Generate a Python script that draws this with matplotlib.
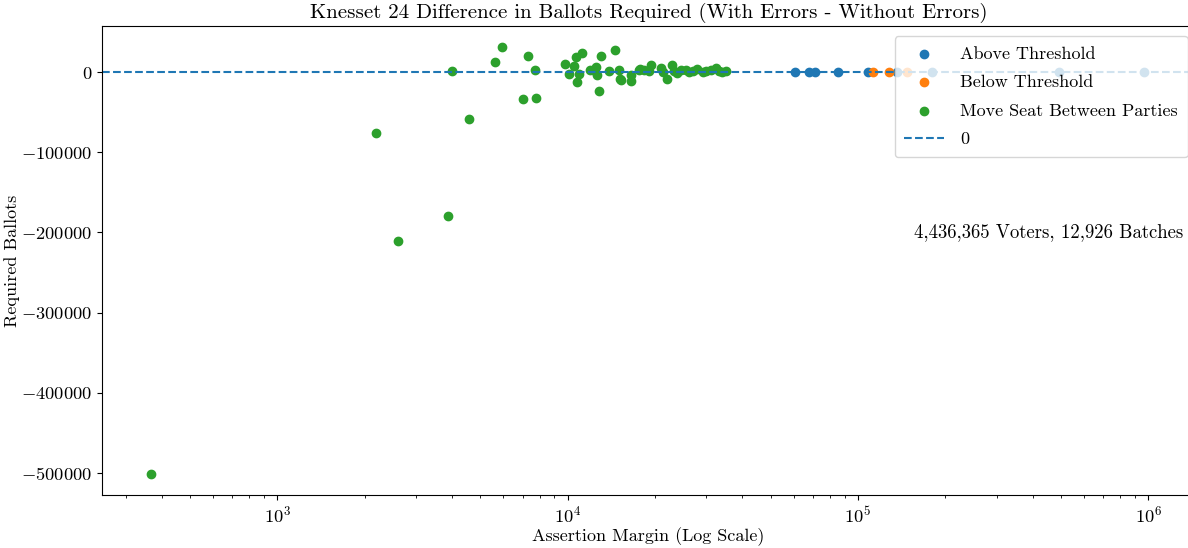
import matplotlib
matplotlib.use('agg')
import matplotlib.pyplot as plt

plt.rcParams['font.family'] = 'serif'
plt.rcParams['font.serif'] = ['cmr10']
plt.rcParams['mathtext.fontset'] = 'cm'
plt.rcParams['axes.formatter.use_mathtext'] = True
plt.rcParams['axes.unicode_minus'] = True

# above threshold assertions
above_margin = [60800, 67900, 71200, 85100, 108500, 136000, 180000, 494000, 970000]
above_diff = [0, 0, 300, 0, 0, 0, 0, 0, 0]

# below threshold assertions
below_margin = [113000, 128300, 147600]
below_diff = [0, 0, 0]

# move seat between parties
seat_margin = [368, 2193, 2612, 3854, 3981, 4572, 5610, 5916, 7031, 7278, 7690, 7760,
               9770, 10100, 10510, 10650, 10740, 10940, 11240, 11940, 12260, 12490,
               12590, 12790, 13020, 13880, 14520, 15010, 15100, 15300, 16490, 16490,
               17620, 17740, 18300, 19320, 19070, 21030, 21370, 21930, 22940, 23260,
               23880, 24560, 25570, 26250, 27100, 27970, 29130, 29920, 31120, 32400,
               33260, 34040, 34980]
seat_diff = [-501000, -76500, -211000, -180000, 1000, -58700, 12100, 31600, -32900,
             20400, 2100, -32100,
             10400, -2100, 7100, 18400, -12100, -2100, 23400, 2100, 2500, 5900,
             -3750, -23400, 19600, 900, 27500, 2500, -7900, -10000, -3750, -10900,
             2500, 3750, 2900, 8750, 1600, 5000, -400, -9100, 8750, 1600,
             -900, 2500, 2500, -400, 900, 4100, -400, 900, 2500, 5000,
             1600, -400, 900]

voters = 4436365
batches = 12926

fig = plt.figure(figsize=(11.88, 5.48), dpi=100)
ax = fig.add_axes([0.086, 0.0967, 0.92, 0.8557])

ax.scatter(above_margin, above_diff, color='tab:blue', label='Above Threshold')
ax.scatter(below_margin, below_diff, color='tab:orange', label='Below Threshold')
ax.scatter(seat_margin, seat_diff, color='tab:green', label='Move Seat Between Parties')
ax.axhline(0, linestyle='--', color='tab:blue', label='0')

ax.set_xscale('log')
ax.set_xlim(249, 1.45e6)
ax.set_ylim(-527500, 57500)

ax.set_title('Knesset 24 Difference in Ballots Required (With Errors - Without Errors)', fontsize=15)
ax.set_xlabel('Assertion Margin (Log Scale)', fontsize=13, labelpad=1)
ax.set_ylabel('Required Ballots', fontsize=13, labelpad=1)
ax.tick_params(labelsize=13.3)

ax.text(0.989, 0.561, '{:,} Voters, {:,} Batches'.format(voters, batches),
        transform=ax.transAxes, ha='right', va='center', fontsize=13.5)

ax.legend(loc='upper right', bbox_to_anchor=(0.9935, 0.979), borderaxespad=0,
          fontsize=13, labelspacing=0.72, borderpad=0.55, handlelength=2.2,
          handletextpad=0.9)

fig.savefig('out.png')
